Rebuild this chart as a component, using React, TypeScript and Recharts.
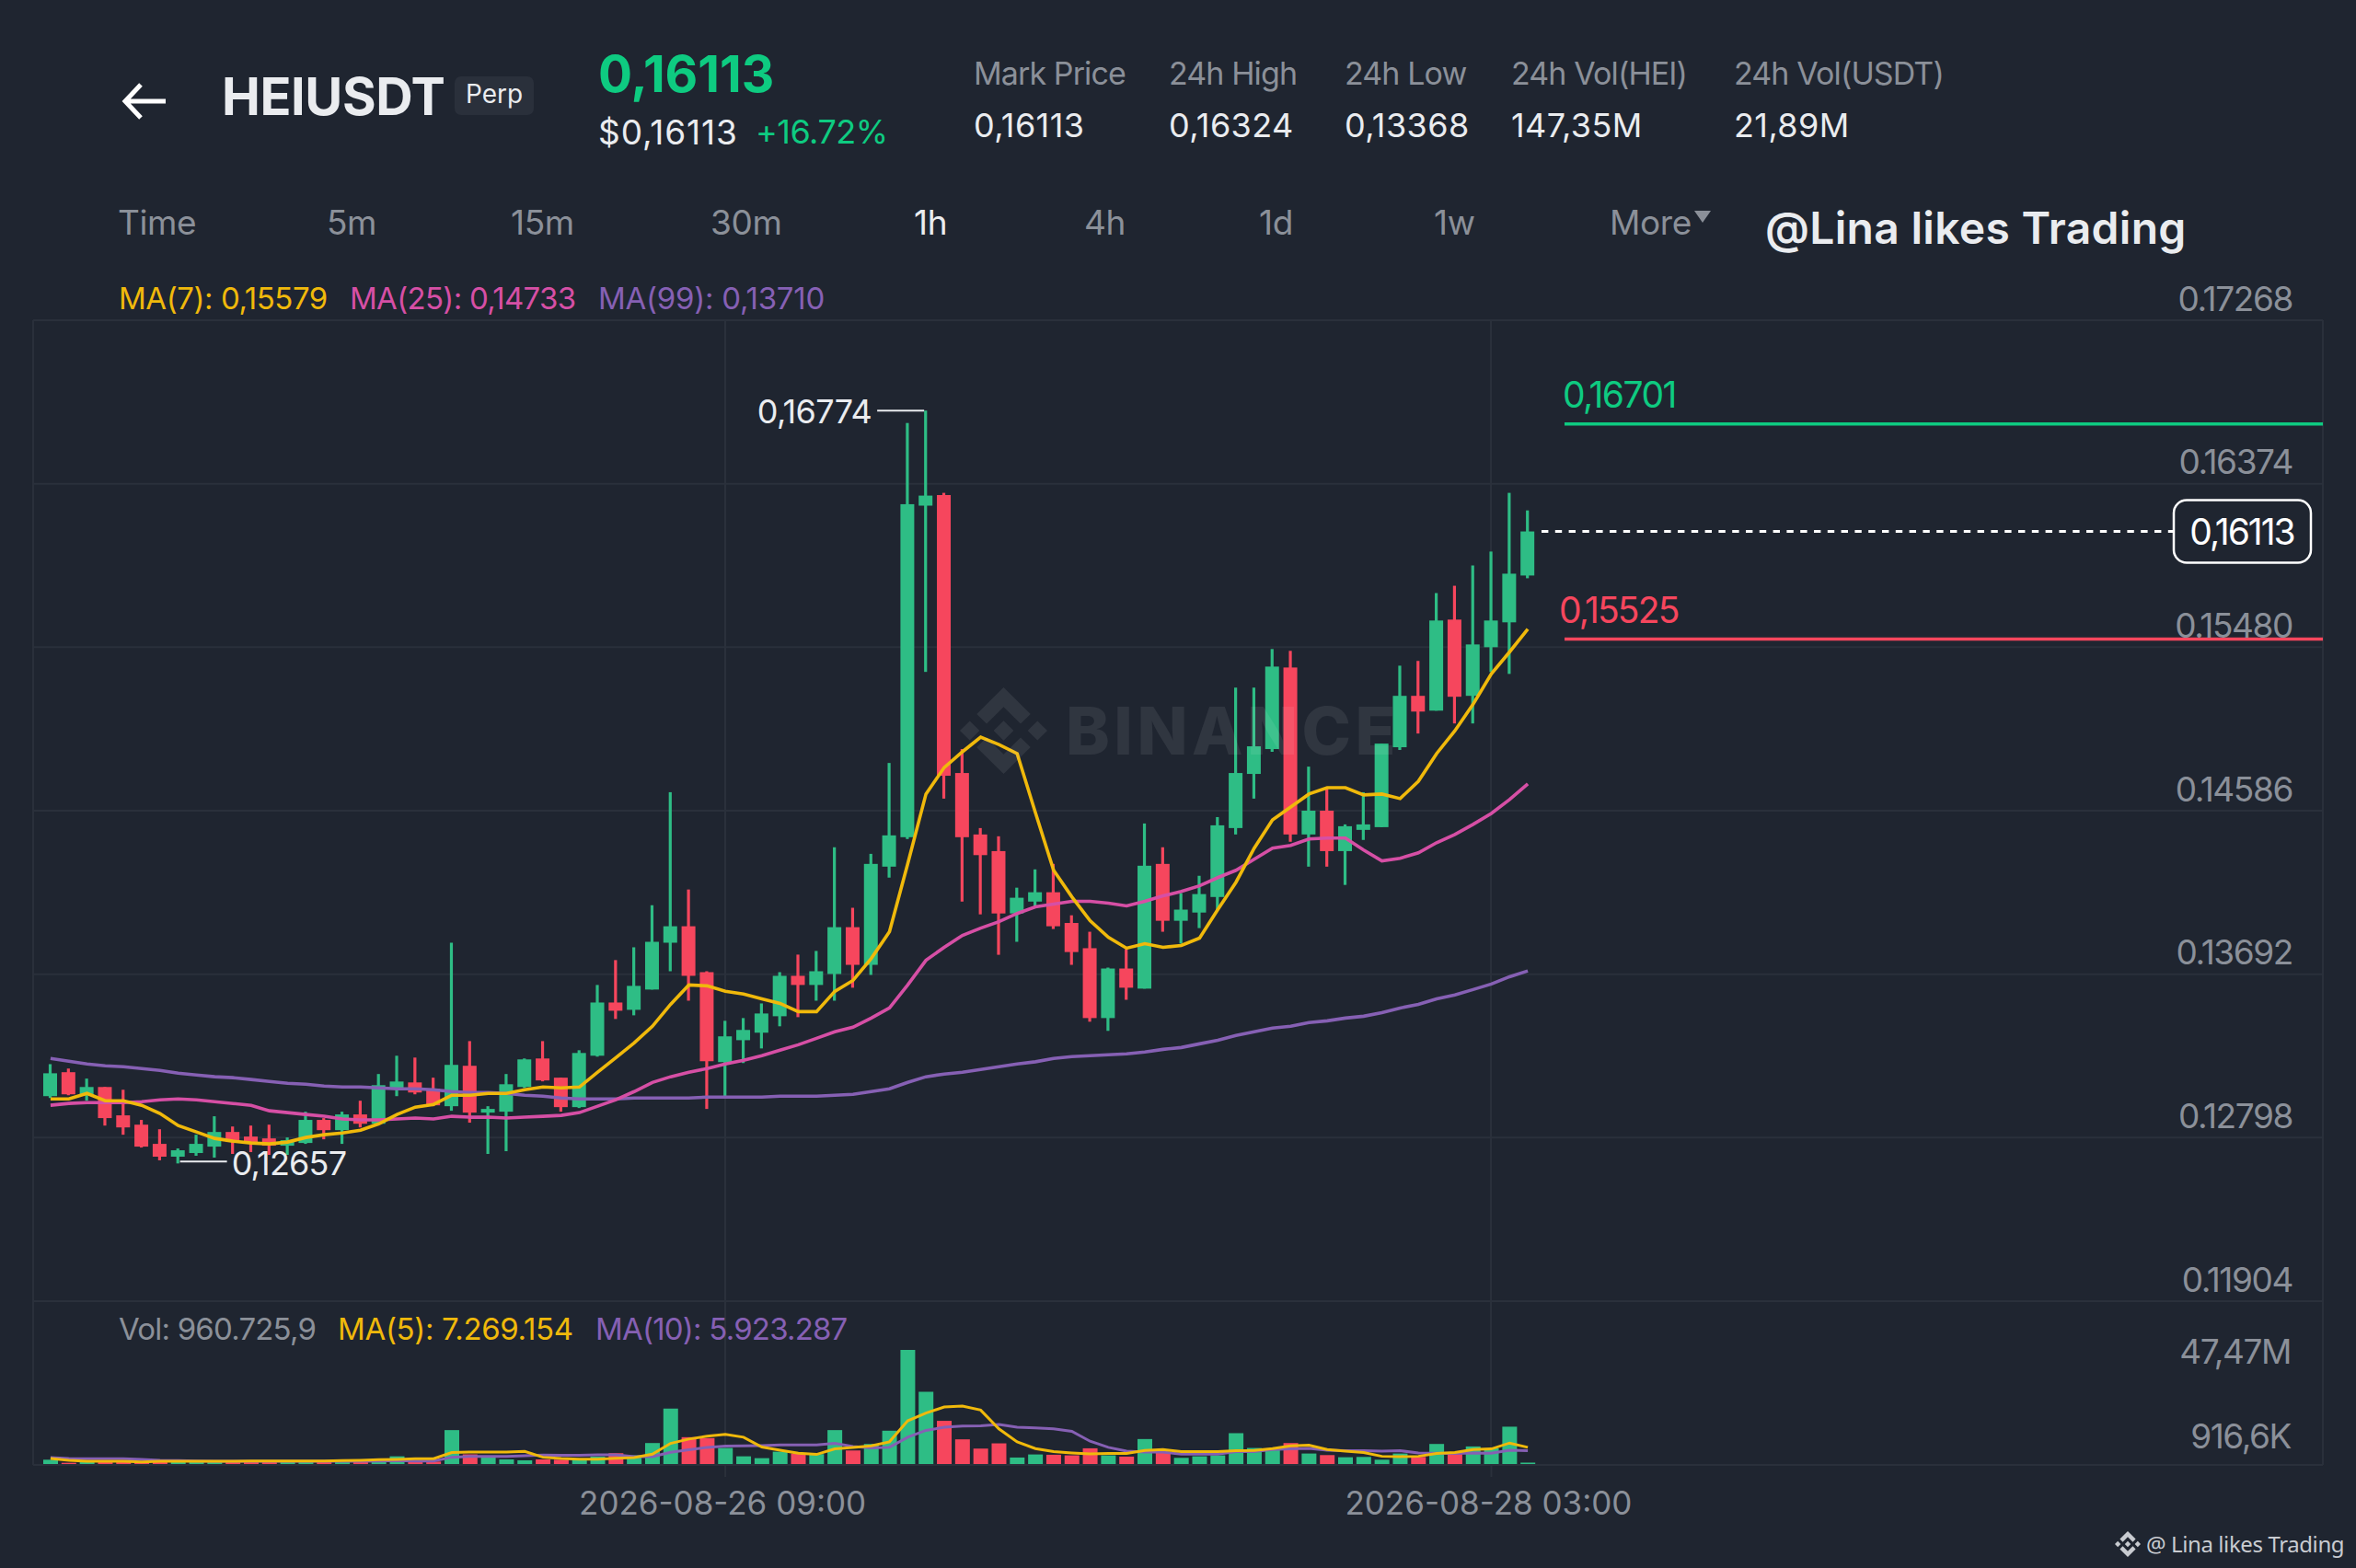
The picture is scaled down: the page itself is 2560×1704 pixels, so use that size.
// HEIUSDT perp 1h candles with MA overlays and volume pane

import type { CSSProperties, ReactNode } from 'react';
import { Bar, CartesianGrid, Cell, ComposedChart, Line, ReferenceDot, ReferenceLine, XAxis, YAxis } from 'recharts';

const times = [
  '2026-08-24 20:00', '2026-08-24 21:00', '2026-08-24 22:00', '2026-08-24 23:00',
  '2026-08-25 00:00', '2026-08-25 01:00', '2026-08-25 02:00', '2026-08-25 03:00', '2026-08-25 04:00', '2026-08-25 05:00',
  '2026-08-25 06:00', '2026-08-25 07:00', '2026-08-25 08:00', '2026-08-25 09:00', '2026-08-25 10:00', '2026-08-25 11:00',
  '2026-08-25 12:00', '2026-08-25 13:00', '2026-08-25 14:00', '2026-08-25 15:00', '2026-08-25 16:00', '2026-08-25 17:00',
  '2026-08-25 18:00', '2026-08-25 19:00', '2026-08-25 20:00', '2026-08-25 21:00', '2026-08-25 22:00', '2026-08-25 23:00',
  '2026-08-26 00:00', '2026-08-26 01:00', '2026-08-26 02:00', '2026-08-26 03:00', '2026-08-26 04:00', '2026-08-26 05:00',
  '2026-08-26 06:00', '2026-08-26 07:00', '2026-08-26 08:00', '2026-08-26 09:00', '2026-08-26 10:00', '2026-08-26 11:00',
  '2026-08-26 12:00', '2026-08-26 13:00', '2026-08-26 14:00', '2026-08-26 15:00', '2026-08-26 16:00', '2026-08-26 17:00',
  '2026-08-26 18:00', '2026-08-26 19:00', '2026-08-26 20:00', '2026-08-26 21:00', '2026-08-26 22:00', '2026-08-26 23:00',
  '2026-08-27 00:00', '2026-08-27 01:00', '2026-08-27 02:00', '2026-08-27 03:00', '2026-08-27 04:00', '2026-08-27 05:00',
  '2026-08-27 06:00', '2026-08-27 07:00', '2026-08-27 08:00', '2026-08-27 09:00', '2026-08-27 10:00', '2026-08-27 11:00',
  '2026-08-27 12:00', '2026-08-27 13:00', '2026-08-27 14:00', '2026-08-27 15:00', '2026-08-27 16:00', '2026-08-27 17:00',
  '2026-08-27 18:00', '2026-08-27 19:00', '2026-08-27 20:00', '2026-08-27 21:00', '2026-08-27 22:00', '2026-08-27 23:00',
  '2026-08-28 00:00', '2026-08-28 01:00', '2026-08-28 02:00', '2026-08-28 03:00', '2026-08-28 04:00', '2026-08-28 05:00',
];

const highs = [
  0.132, 0.13176, 0.13121, 0.13075, 0.1306, 0.12895, 0.12844, 0.12739, 0.12814, 0.12915,
  0.12859, 0.12864, 0.12869, 0.12799, 0.1294, 0.12905, 0.1294, 0.13, 0.13146, 0.13246,
  0.13236, 0.13126, 0.13864, 0.13326, 0.1297, 0.13146, 0.13231, 0.13326, 0.13126, 0.13276,
  0.13633, 0.13769, 0.13839, 0.14069, 0.14687, 0.14155, 0.13708, 0.13437, 0.13452, 0.13532,
  0.13703, 0.13799, 0.13819, 0.14386, 0.14055, 0.1435, 0.14847, 0.16706, 0.16774, 0.16324,
  0.14923, 0.14491, 0.14446, 0.14165, 0.14265, 0.14295, 0.14014, 0.13924, 0.13728, 0.13829,
  0.14516, 0.14386, 0.14135, 0.1423, 0.14551, 0.15259, 0.15259, 0.1547, 0.1546, 0.14827,
  0.14707, 0.14511, 0.14687, 0.14953, 0.15379, 0.15405, 0.15776, 0.15816, 0.15927, 0.16003,
  0.16324, 0.16228,
];
const lows = [
  0.13015, 0.1303, 0.13, 0.12864, 0.12814, 0.12744, 0.12674, 0.12657, 0.12699, 0.12689,
  0.12709, 0.12719, 0.12704, 0.12704, 0.12764, 0.12789, 0.12764, 0.12854, 0.12874, 0.13025,
  0.13035, 0.1297, 0.12945, 0.1288, 0.12709, 0.12724, 0.1307, 0.13106, 0.1294, 0.1296,
  0.13241, 0.13447, 0.13467, 0.13608, 0.13708, 0.13547, 0.12955, 0.13025, 0.13206, 0.13286,
  0.13407, 0.13457, 0.13547, 0.13547, 0.13618, 0.13688, 0.1422, 0.14431, 0.15345, 0.14652,
  0.14089, 0.14019, 0.13798, 0.13869, 0.14064, 0.13939, 0.13743, 0.13432, 0.13382, 0.13552,
  0.13613, 0.13924, 0.13859, 0.13944, 0.14045, 0.14456, 0.14652, 0.14908, 0.14416, 0.1428,
  0.1428, 0.1418, 0.14426, 0.14496, 0.14918, 0.15008, 0.15133, 0.15063, 0.15063, 0.15344,
  0.15334, 0.15857,
];
const opens = [
  0.13025, 0.13156, 0.13035, 0.13075, 0.1292, 0.12869, 0.12764, 0.12694, 0.12714, 0.12749,
  0.12829, 0.12804, 0.12794, 0.12754, 0.12769, 0.12895, 0.12839, 0.12925, 0.12874, 0.1307,
  0.131, 0.13065, 0.1297, 0.13191, 0.12935, 0.1294, 0.13075, 0.13231, 0.13126, 0.12965,
  0.13246, 0.13537, 0.13497, 0.13608, 0.13864, 0.13954, 0.13703, 0.13211, 0.13331, 0.13372,
  0.13462, 0.13683, 0.13633, 0.13693, 0.13949, 0.13743, 0.1428, 0.14441, 0.16254, 0.16312,
  0.14792, 0.14456, 0.14365, 0.14024, 0.14089, 0.1414, 0.13972, 0.13834, 0.13452, 0.13723,
  0.13613, 0.14295, 0.13984, 0.14029, 0.14114, 0.14491, 0.14787, 0.14923, 0.15369, 0.14456,
  0.14586, 0.14365, 0.14481, 0.14496, 0.14933, 0.15214, 0.15133, 0.15631, 0.15214, 0.1548,
  0.15616, 0.15872,
];
const closes = [
  0.1315, 0.13035, 0.13075, 0.12905, 0.12854, 0.12749, 0.12694, 0.12729, 0.12764, 0.12829,
  0.12774, 0.12769, 0.12754, 0.12784, 0.12895, 0.12839, 0.12925, 0.12874, 0.13085, 0.13105,
  0.13045, 0.12975, 0.13196, 0.12935, 0.12955, 0.1309, 0.13226, 0.13111, 0.12965, 0.13261,
  0.13537, 0.13492, 0.13628, 0.13869, 0.13954, 0.13683, 0.13216, 0.13352, 0.13387, 0.13477,
  0.13683, 0.13633, 0.13708, 0.13949, 0.13743, 0.14295, 0.14451, 0.16262, 0.16309, 0.14777,
  0.14441, 0.14343, 0.14024, 0.1411, 0.1414, 0.13954, 0.13813, 0.13452, 0.13723, 0.13618,
  0.14285, 0.13984, 0.14045, 0.1413, 0.14506, 0.14792, 0.14938, 0.15374, 0.14456, 0.14586,
  0.14365, 0.14501, 0.14511, 0.14953, 0.15214, 0.15128, 0.15626, 0.15209, 0.15495, 0.15626,
  0.15882, 0.16113,
];

const ma7 = [
  0.1301, 0.1301, 0.1304, 0.13, 0.13, 0.12975, 0.1293, 0.12864, 0.12829, 0.12794,
  0.12779, 0.12769, 0.12764, 0.12774, 0.12799, 0.12814, 0.12824, 0.12839, 0.12874, 0.12925,
  0.12965, 0.1298, 0.1303, 0.1303, 0.1304, 0.1304, 0.1306, 0.13075, 0.1307, 0.13075,
  0.13156, 0.13236, 0.13316, 0.13407, 0.13527, 0.13633, 0.13628, 0.13598, 0.13583, 0.13557,
  0.13532, 0.13487, 0.13487, 0.13598, 0.13658, 0.13778, 0.13924, 0.14295, 0.14677, 0.14822,
  0.14908, 0.14988, 0.14948, 0.14898, 0.14576, 0.1426, 0.14115, 0.13984, 0.13894, 0.13834,
  0.13859, 0.13839, 0.13849, 0.13889, 0.14045, 0.14195, 0.14381, 0.14536, 0.14606, 0.14677,
  0.14712, 0.14712, 0.14672, 0.14677, 0.14652, 0.14747, 0.14898, 0.15023, 0.15168, 0.15334,
  0.15454, 0.15579,
];
const ma25 = [
  0.12975, 0.12985, 0.1299, 0.1299, 0.1299, 0.12995, 0.13005, 0.1301, 0.13005, 0.12995,
  0.12985, 0.12975, 0.12945, 0.12935, 0.12925, 0.12915, 0.129, 0.12895, 0.12895, 0.129,
  0.12905, 0.129, 0.12915, 0.1291, 0.1291, 0.12905, 0.1291, 0.12915, 0.1292, 0.12935,
  0.1297, 0.13005, 0.1305, 0.131, 0.13131, 0.13156, 0.13176, 0.13201, 0.13221, 0.13246,
  0.13276, 0.13306, 0.13341, 0.13377, 0.13402, 0.13452, 0.13507, 0.13633, 0.13768, 0.13839,
  0.13904, 0.13944, 0.13979, 0.14024, 0.1406, 0.14075, 0.1409, 0.1409, 0.1408, 0.14065,
  0.1409, 0.1412, 0.14145, 0.14175, 0.1422, 0.1426, 0.14321, 0.14381, 0.14396, 0.14431,
  0.14436, 0.14436, 0.14371, 0.14311, 0.14326, 0.14356, 0.14411, 0.14456, 0.14511, 0.14571,
  0.14647, 0.14733,
];
const ma99 = [
  0.13231, 0.13216, 0.13201, 0.13191, 0.13186, 0.13176, 0.13166, 0.13151, 0.13141, 0.13131,
  0.13126, 0.13116, 0.13105, 0.13095, 0.1309, 0.1308, 0.13075, 0.13075, 0.1307, 0.13065,
  0.13065, 0.1306, 0.1305, 0.13045, 0.13045, 0.1304, 0.1303, 0.13025, 0.13015, 0.1301,
  0.1301, 0.1301, 0.13015, 0.13015, 0.13015, 0.13015, 0.1302, 0.1302, 0.1302, 0.1302,
  0.13025, 0.13025, 0.13025, 0.1303, 0.13035, 0.1305, 0.13065, 0.131, 0.13131, 0.13146,
  0.13156, 0.13171, 0.13186, 0.13201, 0.13213, 0.13231, 0.13241, 0.13246, 0.13251, 0.13256,
  0.13266, 0.13281, 0.13291, 0.13311, 0.13331, 0.13357, 0.13377, 0.13397, 0.13407, 0.13427,
  0.13437, 0.13452, 0.13462, 0.13482, 0.13507, 0.13527, 0.13557, 0.13578, 0.13608, 0.13638,
  0.13678, 0.1371,
];

// volumes in millions
const volumes = [
  2.16, 0.89, 1.27, 1.53, 1.53, 1.27, 1.4, 1.27, 1.27, 1.27,
  1.27, 1.27, 1.4, 1.15, 1.27, 1.4, 1.53, 1.53, 1.4, 3.56,
  1.65, 1.4, 14.38, 4.33, 3.31, 2.29, 1.91, 2.29, 2.16, 1.91,
  3.44, 4.84, 3.95, 9.04, 23.3, 11.46, 11.08, 7.0, 3.56, 2.8,
  5.47, 4.71, 4.46, 14.38, 5.98, 8.66, 14.13, 47.47, 30.17, 18.2,
  10.57, 6.75, 8.91, 3.06, 4.33, 4.2, 3.95, 6.87, 3.95, 3.44,
  10.69, 5.09, 2.93, 3.56, 3.95, 13.11, 7.0, 6.24, 9.04, 4.71,
  4.07, 3.18, 3.31, 2.16, 4.71, 3.31, 8.66, 4.46, 7.64, 6.87,
  15.79, 0.96,
];
const volMa5 = [
  2.67, 1.91, 1.53, 1.53, 1.53, 1.27, 1.53, 1.53, 1.53, 1.53,
  1.53, 1.65, 1.65, 1.65, 1.65, 1.65, 1.78, 1.91, 2.16, 2.29,
  2.55, 2.55, 5.09, 5.35, 5.35, 5.35, 5.6, 3.18, 2.67, 2.42,
  2.42, 2.8, 3.06, 4.46, 8.91, 10.69, 11.84, 12.6, 11.46, 7.38,
  6.11, 4.84, 4.33, 6.62, 7.26, 7.89, 9.55, 18.2, 21.39, 23.93,
  24.31, 22.66, 14.89, 9.55, 6.75, 5.47, 4.96, 4.58, 4.71, 4.71,
  5.98, 6.37, 5.47, 5.47, 5.47, 5.86, 5.98, 6.75, 7.89, 8.15,
  6.37, 5.73, 5.09, 3.56, 3.44, 3.56, 4.71, 5.09, 6.37, 6.62,
  9.04, 7.27,
];
const volMa10 = [
  3.06, 2.67, 2.55, 2.55, 2.55, 2.29, 1.91, 1.78, 1.65, 1.53,
  1.53, 1.53, 1.53, 1.53, 1.53, 1.53, 1.53, 1.53, 1.65, 1.78,
  1.65, 1.65, 3.18, 3.56, 3.56, 3.56, 3.82, 4.07, 3.95, 3.95,
  4.2, 4.2, 3.44, 3.44, 5.22, 6.24, 7.26, 7.77, 7.89, 8.02,
  8.27, 8.27, 8.27, 8.91, 7.64, 7.0, 7.26, 11.46, 14.26, 15.53,
  16.04, 16.17, 16.68, 15.53, 15.28, 14.89, 13.88, 9.8, 7.26, 5.73,
  5.35, 5.35, 4.46, 4.46, 4.46, 5.47, 5.47, 6.37, 6.62, 6.87,
  6.11, 5.86, 5.86, 5.73, 5.86, 4.96, 4.84, 4.71, 4.96, 4.84,
  6.11, 5.92,
];

const priceTicks = [0.17268, 0.16374, 0.1548, 0.14586, 0.13692, 0.12798, 0.11904];
const volTicks = [47.47, 0.9166];
const volTickLabels = ['47,47M', '916,6K'];
const xTicks = ['2026-08-26 09:00', '2026-08-28 03:00'];
const timeframes = ['Time', '5m', '15m', '30m', '1h', '4h', '1d', '1w', 'More'];
const timeframeX = [128, 355, 555, 772, 993, 1178, 1368, 1558, 1749];
const statNames = ['Mark Price', '24h High', '24h Low', '24h Vol(HEI)', '24h Vol(USDT)'];
const statValues = ['0,16113', '0,16324', '0,13368', '147,35M', '21,89M'];
const statX = [1058, 1270, 1461, 1642, 1884];

const rows = times.map((t, i) => ({
  t,
  o: opens[i],
  h: highs[i],
  l: lows[i],
  c: closes[i],
  ma7: ma7[i],
  ma25: ma25[i],
  ma99: ma99[i],
  vol: volumes[i],
  volMa5: volMa5[i],
  volMa10: volMa10[i],
}));

const BG = '#1f2530';
const GRID = '#2a303b';
const UP = '#2ebd85';
const DOWN = '#f6465d';
const UP_TEXT = '#0ecb81';
const YELLOW = '#f0b90b';
const PINK = '#d64fa5';
const PURPLE = '#8660b4';
const GREY = '#8b9099';
const WHITE = '#eaecef';
const FONT = 'Inter, sans-serif';
const NUM_SPACING = -1.4;

const gridX = [36, 788, 1620, 2524];
const CHART_MARGIN_X = { left: 36, right: 36 };
const X_PADDING = { left: 9, right: 854 };

function Candle(props: any) {
  const { x, y, width, height, payload } = props;
  const perUnit = height / (payload.h - payload.l);
  const top = y + (payload.h - Math.max(payload.o, payload.c)) * perUnit;
  const bottom = y + (payload.h - Math.min(payload.o, payload.c)) * perUnit;
  const color = payload.c >= payload.o ? UP : DOWN;
  return (
    <g>
      <rect x={x + width / 2 - 1.6} y={y} width={3.2} height={height} fill={color} />
      <rect x={x} y={top} width={width} height={Math.max(bottom - top, 2)} fill={color} />
    </g>
  );
}

function Txt({ x, y, size, color, weight, anchor, spacing, family, children }: {
  x: number; y: number; size: number; color: string; weight?: number; anchor?: 'left' | 'right' | 'center';
  spacing?: number; family?: string; children: ReactNode;
}) {
  const shift = anchor === 'right' ? '-100%' : anchor === 'center' ? '-50%' : '0';
  const style: CSSProperties = {
    position: 'absolute', left: x, top: y, transform: `translate(${shift}, -50%)`, fontSize: size, color,
    fontWeight: weight ?? 400, letterSpacing: spacing ?? 0, fontFamily: family ?? FONT, lineHeight: 1, whiteSpace: 'nowrap',
  };
  return <div style={style}>{children}</div>;
}

function BinanceLogo({ x, y, w, h, fill }: { x: number; y: number; w: number; h: number; fill: string }) {
  return (
    <svg viewBox="0 0 126.61 126.61" preserveAspectRatio="none" style={{ position: 'absolute', left: x, top: y, width: w, height: h }}>
      <g fill={fill}>
        <path d="M38.73 53.2l24.59-24.58 24.6 24.6 14.3-14.31L63.32 0 24.42 38.9z" />
        <path d="M0 63.31l14.3-14.31 14.31 14.31-14.31 14.3z" />
        <path d="M38.73 73.41l24.59 24.59 24.6-24.6 14.31 14.29-38.9 38.91-38.91-38.88-.02-.02z" />
        <path d="M98.01 63.31l14.3-14.31 14.31 14.31-14.31 14.3z" />
        <path d="M77.83 63.3L63.32 48.78 52.59 59.51l-1.24 1.23-2.54 2.54 14.51 14.52 14.51-14.5z" />
      </g>
    </svg>
  );
}

function PriceTick({ y, payload }: any) {
  return (
    <text x={2491} y={y - 24} textAnchor="end" dominantBaseline="central" fill={GREY} fontSize={37} fontFamily={FONT} letterSpacing={NUM_SPACING}>
      {payload.value.toFixed(5)}
    </text>
  );
}

function VolTick({ y, payload, index }: any) {
  return (
    <text x={2489} y={payload.value > 10 ? y + 1 : y - 29} textAnchor="end" dominantBaseline="central" fill={GREY} fontSize={37} fontFamily={FONT} letterSpacing={NUM_SPACING}>
      {volTickLabels[index]}
    </text>
  );
}

function TimeTick({ x, payload }: any) {
  return (
    <text x={x - 3} y={1633} textAnchor="middle" dominantBaseline="central" fill={GREY} fontSize={35} fontFamily={FONT}>
      {payload.value}
    </text>
  );
}

function LevelLine(color: string, label: string, labelX: number, spacing: number) {
  return (props: any) => (
    <g>
      <line x1={1700} x2={Math.max(props.x1, props.x2)} y1={props.y1} y2={props.y2} stroke={color} strokeWidth={3.5} />
      <text x={labelX} y={props.y1 - 32} dominantBaseline="central" fill={color} fontSize={39} fontFamily={FONT} letterSpacing={spacing}>
        {label}
      </text>
    </g>
  );
}

function LastPriceLine(props: any) {
  const y = props.y1;
  return (
    <g>
      <line x1={1675} x2={2362} y1={y} y2={y} stroke="#ffffff" strokeWidth={3} strokeDasharray="7.4 7.4" />
      <rect x={2362} y={y - 34} width={149} height={68} rx={14} fill={BG} stroke="#ffffff" strokeWidth={2.5} />
      <text x={2436} y={y} textAnchor="middle" dominantBaseline="central" fill="#ffffff" fontSize={39} fontFamily={FONT} letterSpacing={-2}>
        0,16113
      </text>
    </g>
  );
}

function HighMark(props: any) {
  const { cx, cy } = props;
  return (
    <g>
      <line x1={cx - 53} x2={cx - 2} y1={cy} y2={cy} stroke={WHITE} strokeWidth={2} />
      <text x={cx - 59} y={cy + 1} textAnchor="end" dominantBaseline="central" fill={WHITE} fontSize={36} fontFamily={FONT} letterSpacing={-0.6}>
        0,16774
      </text>
    </g>
  );
}

function LowMark(props: any) {
  const { cx, cy } = props;
  return (
    <g>
      <line x1={cx + 2} x2={cx + 53} y1={cy - 2} y2={cy - 2} stroke={WHITE} strokeWidth={2} />
      <text x={cx + 58} y={cy} dominantBaseline="central" fill={WHITE} fontSize={36} fontFamily={FONT} letterSpacing={-0.8}>
        0,12657
      </text>
    </g>
  );
}

export default function App() {
  return (
    <div style={{ position: 'fixed', left: 0, top: 0, width: 2560, height: 1704, background: BG, overflow: 'hidden' }}>
      {/* price pane */}
      <div style={{ position: 'absolute', left: 0, top: 0 }}>
        <ComposedChart width={2560} height={1704} data={rows} margin={{ top: 348, bottom: 290, ...CHART_MARGIN_X }} barCategoryGap={0}>
          <CartesianGrid stroke={GRID} strokeWidth={2} verticalPoints={gridX} />
          <XAxis dataKey="t" hide padding={X_PADDING} />
          <YAxis
            orientation="right"
            width={1}
            mirror
            domain={[0.11904, 0.17268]}
            ticks={priceTicks}
            interval={0}
            axisLine={false}
            tickLine={false}
            tick={PriceTick}
          />
          <Bar dataKey={(d: any) => [d.l, d.h]} barSize={15} shape={Candle} isAnimationActive={false} />
          <Line dataKey="ma99" stroke={PURPLE} strokeWidth={3.6} dot={false} isAnimationActive={false} />
          <Line dataKey="ma25" stroke={PINK} strokeWidth={3.6} dot={false} isAnimationActive={false} />
          <Line dataKey="ma7" stroke={YELLOW} strokeWidth={3.6} dot={false} isAnimationActive={false} />
          <ReferenceLine y={0.16701} shape={LevelLine(UP_TEXT, '0,16701', 1698, -1.5)} />
          <ReferenceLine y={0.15525} shape={LevelLine(DOWN, '0,15525', 1694, -1.8)} />
          <ReferenceLine y={0.16113} shape={LastPriceLine} />
          <ReferenceDot x={times[48]} y={0.16774} shape={HighMark} />
          <ReferenceDot x={times[7]} y={0.12657} shape={LowMark} />
        </ComposedChart>
      </div>

      {/* volume pane */}
      <div style={{ position: 'absolute', left: 0, top: 0 }}>
        <ComposedChart width={2560} height={1704} data={rows} margin={{ top: 1414, bottom: 52, ...CHART_MARGIN_X }} barCategoryGap={0}>
          <CartesianGrid stroke={GRID} strokeWidth={2} horizontal={false} verticalPoints={gridX} />
          <XAxis
            dataKey="t"
            height={60}
            padding={X_PADDING}
            ticks={xTicks}
            interval={0}
            axisLine={{ stroke: GRID, strokeWidth: 2 }}
            tickLine={{ stroke: GRID, strokeWidth: 2 }}
            tickSize={13}
            tick={TimeTick}
          />
          <YAxis
            orientation="right"
            width={1}
            mirror
            domain={[0, 67.6]}
            ticks={volTicks}
            interval={0}
            axisLine={false}
            tickLine={false}
            tick={VolTick}
          />
          <Bar dataKey="vol" barSize={16} isAnimationActive={false}>
            {rows.map((r) => (
              <Cell key={r.t} fill={r.c >= r.o ? UP : DOWN} />
            ))}
          </Bar>
          <Line dataKey="volMa10" stroke={PURPLE} strokeWidth={3} dot={false} isAnimationActive={false} />
          <Line dataKey="volMa5" stroke={YELLOW} strokeWidth={3} dot={false} isAnimationActive={false} />
        </ComposedChart>
      </div>

      {/* watermark sits over the candles */}
      <BinanceLogo x={1043} y={747} w={95} h={94} fill="rgba(255,255,255,0.08)" />
      <Txt x={1158} y={794} size={72} color="rgba(255,255,255,0.08)" weight={800} spacing={4.5}>BINANCE</Txt>

      {/* header */}
      <svg style={{ position: 'absolute', left: 130, top: 85, width: 56, height: 50 }}>
        <path d="M50 25 H7 M23 7 L6 25 L23 43" fill="none" stroke="#ffffff" strokeWidth={5} />
      </svg>
      <Txt x={241} y={105} size={56} color={WHITE} weight={700} spacing={-0.4}>HEIUSDT</Txt>
      <div style={{ position: 'absolute', left: 494, top: 83, width: 86, height: 42, borderRadius: 7, background: '#2a303b' }} />
      <Txt x={537} y={102} size={28} color={WHITE} anchor="center">Perp</Txt>
      <Txt x={650} y={80} size={55} color={UP_TEXT} weight={700} spacing={0}>0,16113</Txt>
      <Txt x={650} y={143} size={37} color={WHITE} spacing={0.9}>$0,16113</Txt>
      <Txt x={821} y={143} size={36} color={UP_TEXT} spacing={-0.5}>+16.72%</Txt>
      {statNames.map((name, i) => (
        <Txt key={name} x={statX[i]} y={80} size={34} color={GREY} spacing={-0.9}>{name}</Txt>
      ))}
      {statValues.map((value, i) => (
        <Txt key={value} x={statX[i]} y={136} size={36} color={WHITE} spacing={0.4}>{value}</Txt>
      ))}
      {timeframes.map((name, i) => (
        <Txt key={name} x={timeframeX[i]} y={241} size={37} color={name === '1h' ? WHITE : GREY} spacing={-0.4}>{name}</Txt>
      ))}
      <svg style={{ position: 'absolute', left: 1841, top: 229, width: 18, height: 13 }}>
        <path d="M0 0 H18 L9 13 Z" fill={GREY} />
      </svg>
      <Txt x={1918} y={248} size={48} color={WHITE} weight={600} spacing={0.3}>@Lina likes Trading</Txt>

      <Txt x={129} y={324} size={33} color={YELLOW} spacing={-0.45}>MA(7): 0,15579</Txt>
      <Txt x={380} y={324} size={33} color={PINK} spacing={-0.7}>MA(25): 0,14733</Txt>
      <Txt x={650} y={324} size={33} color={PURPLE} spacing={-0.25}>MA(99): 0,13710</Txt>

      <Txt x={129} y={1444} size={33} color={GREY} spacing={-0.8}>Vol: 960.725,9</Txt>
      <Txt x={367} y={1444} size={33} color={YELLOW} spacing={-0.35}>MA(5): 7.269.154</Txt>
      <Txt x={647} y={1444} size={33} color={PURPLE} spacing={-0.8}>MA(10): 5.923.287</Txt>

      <BinanceLogo x={2298} y={1664} w={28} h={28} fill="#c8cbd0" />
      <Txt x={2332} y={1678} size={24} color="#c8cbd0" family="'Noto Sans', sans-serif" spacing={-0.4}>@ Lina likes Trading</Txt>
    </div>
  );
}
